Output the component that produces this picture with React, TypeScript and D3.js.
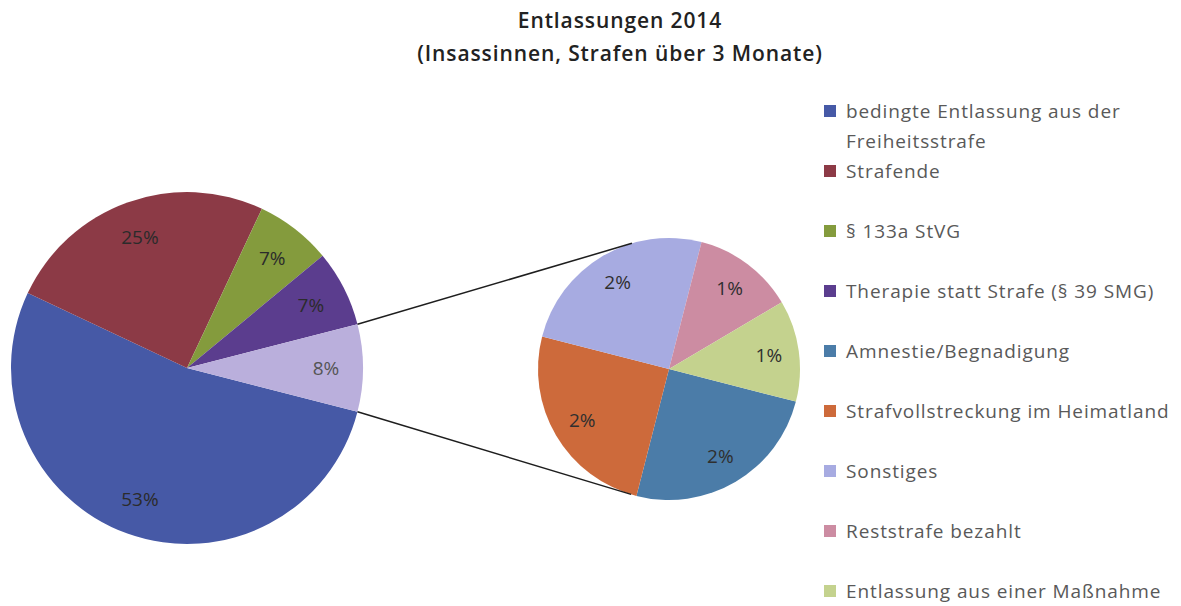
import React, { useEffect, useRef } from 'react';
import * as d3 from 'd3';

// chart data
const mainNames = ['bedingte Entlassung aus der Freiheitsstrafe', 'Strafende', '§ 133a StVG', 'Therapie statt Strafe (§ 39 SMG)'];
const mainValues = [53, 25, 7, 7];
const mainColors = ['#4659a6', '#8c3a46', '#849b3d', '#5b3d8e'];
const otherColor = '#baafdc';

const subNames = ['Amnestie/Begnadigung', 'Strafvollstreckung im Heimatland', 'Sonstiges', 'Reststrafe bezahlt', 'Entlassung aus einer Maßnahme'];
const subValues = [2, 2, 2, 1, 1];
const subColors = ['#4b7ca8', '#cd6a3b', '#a7abe1', '#cc8ca2', '#c4d28e'];

const legendLines = [
  ['bedingte Entlassung aus der', 'Freiheitsstrafe'],
  ['Strafende'],
  ['§ 133a StVG'],
  ['Therapie statt Strafe (§ 39 SMG)'],
  ['Amnestie/Begnadigung'],
  ['Strafvollstreckung im Heimatland'],
  ['Sonstiges'],
  ['Reststrafe bezahlt'],
  ['Entlassung aus einer Maßnahme'],
];

const titleLines = ['Entlassungen 2014', '(Insassinnen, Strafen über 3 Monate)'];

const W = 1181;
const H = 606;
const FONT = '"Open Sans", Lato, sans-serif';

const App = () => {
  const ref = useRef<SVGSVGElement>(null);

  useEffect(() => {
    const svg = d3.select(ref.current);
    svg.selectAll('*').remove();

    // title
    svg.append('g')
      .selectAll('text')
      .data(titleLines)
      .enter().append('text')
      .attr('x', 620)
      .attr('y', (d, i) => 28 + i * 33)
      .attr('text-anchor', 'middle')
      .attr('font-family', FONT)
      .attr('font-size', 21)
      .attr('font-weight', 600)
      .attr('letter-spacing', 0.9)
      .attr('fill', '#222')
      .text(d => d);

    // the split: first pie gets the sum of the second as one slice
    const otherTotal = d3.sum(subValues);
    const main = mainNames.map((n, i) => ({ name: n, value: mainValues[i], color: mainColors[i] }));
    main.push({ name: 'other', value: otherTotal, color: otherColor });
    const sub = subNames.map((n, i) => ({ name: n, value: subValues[i], color: subColors[i] }));

    const start = Math.PI / 2 + (otherTotal / d3.sum(main, d => d.value)) * Math.PI;
    const pie = d3.pie<any>().sort(null).value(d => d.value)
      .startAngle(start).endAngle(start + 2 * Math.PI);

    const c1 = { x: 187, y: 368, r: 176 };
    const c2 = { x: 669, y: 369, r: 131 };

    const drawPie = (cx: number, cy: number, r: number, data: any[], labelColor: (i: number) => string, labelR: (i: number) => number) => {
      const g = svg.append('g').attr('transform', `translate(${cx},${cy})`);
      const arcs = pie(data);
      const arc = d3.arc<any>().innerRadius(0).outerRadius(r);
      g.selectAll('path')
        .data(arcs)
        .enter().append('path')
        .attr('d', arc)
        .attr('fill', d => d.data.color);
      g.selectAll('text')
        .data(arcs)
        .enter().append('text')
        .attr('transform', (d, i) => {
          const lr = r * labelR(i);
          return `translate(${d3.arc<any>().innerRadius(lr).outerRadius(lr).centroid(d)})`;
        })
        .attr('text-anchor', 'middle')
        .attr('dominant-baseline', 'central')
        .attr('font-family', FONT)
        .attr('font-size', 19)
        .attr('fill', (d, i) => labelColor(i))
        .text(d => `${d.data.value}%`);
      return arcs;
    };

    const mainArcs = drawPie(c1.x, c1.y, c1.r, main, i => (i === 4 ? '#555' : '#2b2b2b'), () => 0.79);
    drawPie(c2.x, c2.y, c2.r, sub, () => '#2f2f2f', () => 0.77);

    // connector lines: from the corners of the split slice, tangent to the second pie
    const o = mainArcs[4];
    const corner = (a: number) => ({ x: c1.x + c1.r * Math.sin(a), y: c1.y - c1.r * Math.cos(a) });
    const tangents = (p: { x: number; y: number }) => {
      const dx = p.x - c2.x;
      const dy = p.y - c2.y;
      const d = Math.sqrt(dx * dx + dy * dy);
      const phi = Math.atan2(dy, dx);
      const alpha = Math.acos(c2.r / d);
      return [phi + alpha, phi - alpha].map(a => ({ x: c2.x + c2.r * Math.cos(a), y: c2.y + c2.r * Math.sin(a) }));
    };
    const corners = [corner(o.startAngle), corner(o.endAngle)].sort((a, b) => a.y - b.y);
    const topEnd = tangents(corners[0]).sort((a, b) => a.y - b.y)[0];
    const botEnd = tangents(corners[1]).sort((a, b) => b.y - a.y)[0];

    svg.append('g')
      .selectAll('line')
      .data([[corners[0], topEnd], [corners[1], botEnd]])
      .enter().append('line')
      .attr('x1', d => d[0].x)
      .attr('y1', d => d[0].y)
      .attr('x2', d => d[1].x)
      .attr('y2', d => d[1].y)
      .attr('stroke', '#1e1e1e')
      .attr('stroke-width', 1.5);

    // legend
    const allColors = [...mainColors, ...subColors];
    const ly = d3.scaleLinear().domain([0, legendLines.length - 1]).range([111, 591]);
    const items = svg.append('g')
      .selectAll('g')
      .data(legendLines)
      .enter().append('g')
      .attr('transform', (d, i) => `translate(824,${ly(i)})`);
    items.append('rect')
      .attr('x', 0)
      .attr('y', -6)
      .attr('width', 12)
      .attr('height', 12)
      .attr('fill', (d, i) => allColors[i]);
    items.selectAll('text')
      .data(d => d)
      .enter().append('text')
      .attr('x', 22)
      .attr('y', (d, i) => i * 30)
      .attr('dominant-baseline', 'central')
      .attr('font-family', FONT)
      .attr('font-size', 19)
      .attr('letter-spacing', 0.9)
      .attr('fill', '#595959')
      .text(d => d);
  }, []);

  return (
    <svg ref={ref} width={W} height={H} style={{ position: 'absolute', left: 0, top: 0, background: '#fff' }} />
  );
};

export default App;
